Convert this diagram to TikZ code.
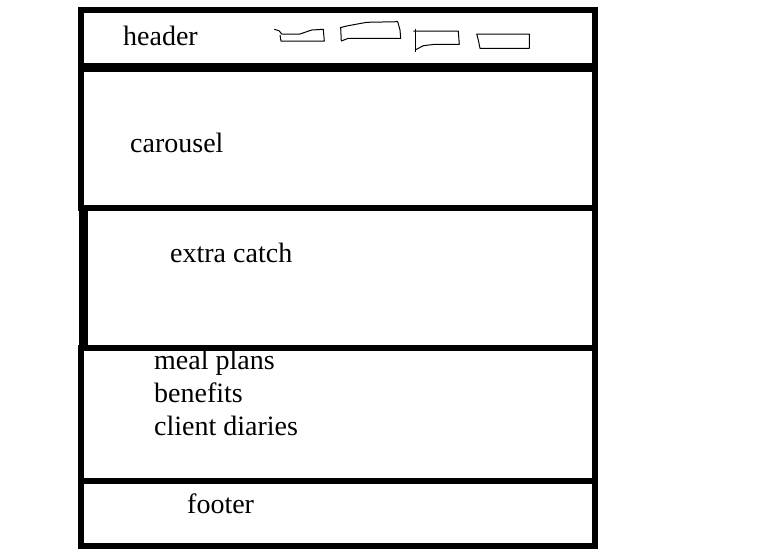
\documentclass[tikz,border=0pt]{standalone}
\usepackage{fontspec}
\setmainfont{Liberation Serif}
\usetikzlibrary{positioning}

\begin{document}
\begin{tikzpicture}[x=1pt, y=-1pt, sect node/.style={rectangle,draw,line width=6pt,inner sep=0pt,outer sep=0pt,minimum width=514pt},tab/.style={draw,line width=1pt,line join=round}]
\useasboundingbox (0,0) rectangle (771,550);
\begin{scope}[every node/.style={sect node}]
\node (hdr) at (338,38) [minimum height=56pt] {};
\node (carousel) at (338,138.25) [minimum height=138.5pt] {};
\node (extra) at (339.25,277.75) [minimum width=511.5pt, minimum height=140.5pt] {};
\node (meals) at (338,414.25) [minimum height=132.5pt] {};
\node (footer) at (338,513.25) [minimum height=65.5pt] {};
\end{scope}
\draw[line width=9pt] (extra.north west) -- (extra.south west);
\begin{scope}[every node/.style={font=\fontsize{28}{33}\selectfont,anchor=base west,inner sep=0pt}]
\node (hdr txt) at (123,45) {header};
\node (carousel txt) at (130,152) {carousel};
\node (extra txt) at (170,262) {extra catch};
\node (meal txt) at (154,369) {meal plans};
\node (benefit txt) at (154,402) {benefits};
\node (diary txt) at (154,435) {client diaries};
\node (footer txt) at (187,513) {footer};
\end{scope}
% menu tabs in the header
\draw[tab] (274.3,29.3) -- (279,30.7) -- (281.7,34) -- (300,34) -- (311.7,30) -- (323.3,29.3) -- (324.3,41) -- (281,41) -- (280,35);
\draw[tab] (340,27.7) -- (346.7,26) -- (366.7,22.3) -- (397.7,21.7) -- (400,30) -- (400.7,38.3) -- (348.3,38.3) -- (341.3,41) -- (340.7,28);
\draw[tab] (413.3,31) -- (458.3,31) -- (459.3,44.3) -- (435,44.3) -- (423.3,45.7) -- (418.3,48.3) -- (415,50);
\draw[tab] (415,29) -- (415,51.7);
\draw[tab] (476.7,34) -- (529.3,34) -- (529.3,48.3) -- (480,48.3) -- (478.3,40) -- cycle;
\end{tikzpicture}
\end{document}
